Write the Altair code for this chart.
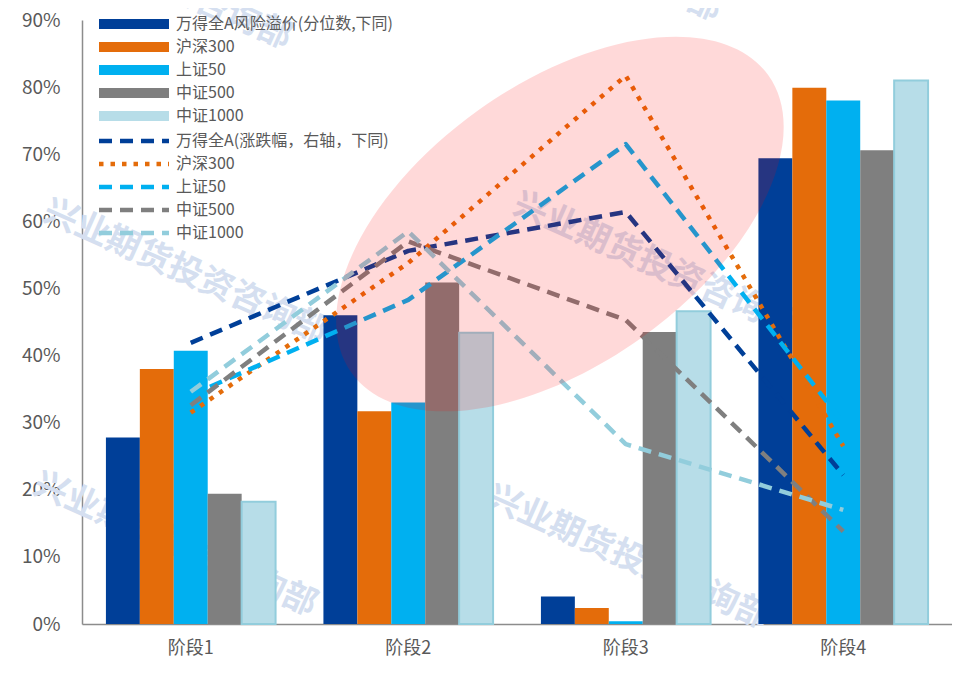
import altair as alt
import pandas as pd

FONT = "Noto Sans CJK SC"

# ---------------- data ----------------
stages = ["阶段1", "阶段2", "阶段3", "阶段4"]

bar_names = ["万得全A风险溢价(分位数,下同)", "沪深300", "上证50", "中证500", "中证1000"]
bar_wind = [27.8, 46.0, 4.1, 69.4]
bar_hs300 = [38.0, 31.7, 2.4, 79.9]
bar_sz50 = [40.7, 33.0, 0.4, 78.0]
bar_zz500 = [19.4, 50.9, 43.5, 70.6]
bar_zz1000 = [18.2, 43.4, 46.6, 81.0]

line_names = ["万得全A(涨跌幅，右轴，下同)", "沪深300", "上证50", "中证500", "中证1000"]
line_wind = [41.9, 55.6, 61.4, 22.2]
line_hs300 = [31.5, 53.8, 81.7, 26.5]
line_sz50 = [34.1, 48.3, 71.5, 30.0]
line_zz500 = [32.6, 57.0, 45.3, 13.8]
line_zz1000 = [34.6, 58.5, 26.8, 17.0]

highlight_stage = ["阶段3"]
highlight_level = [59.6]

y_ticks = [0, 10, 20, 30, 40, 50, 60, 70, 80, 90]
watermark_text = "兴业期货投资咨询部"

# ---------------- styles ----------------
bar_fill = ["#003F98", "#E46C0A", "#00B0F0", "#7F7F7F", "#B7DDE8"]
line_colors = ["#003F98", "#E46C0A", "#00B0F0", "#7F7F7F", "#92CDDC"]
line_dashes = [[13, 8], [4.5, 7], [13, 8], [13, 8], [13, 8]]

bar_series = [bar_wind, bar_hs300, bar_sz50, bar_zz500, bar_zz1000]
line_series = [line_wind, line_hs300, line_sz50, line_zz500, line_zz1000]

bars_df = pd.DataFrame(
    [
        {"stage": s, "bar_series": n, "value": v / 100}
        for n, vals in zip(bar_names, bar_series)
        for s, v in zip(stages, vals)
    ]
)
lines_df = pd.DataFrame(
    [
        {"stage": s, "line_series": n, "value": v / 100}
        for n, vals in zip(line_names, line_series)
        for s, v in zip(stages, vals)
    ]
)
hl_df = pd.DataFrame(
    {"stage": highlight_stage, "level": [v / 100 for v in highlight_level]}
)

x_enc = alt.X(
    "stage:N",
    scale=alt.Scale(domain=stages, paddingInner=0.22, paddingOuter=0.11),
    axis=alt.Axis(
        title=None,
        labelAngle=0,
        labelFontSize=18,
        labelFont=FONT,
        labelColor="#595959",
        labelPadding=15,
        ticks=False,
        domainColor="#8C8C8C",
        domainWidth=1.5,
        grid=False,
    ),
)
y_scale = alt.Scale(domain=[0, 0.9], nice=False)
y_axis = alt.Axis(
    title=None,
    values=[t / 100 for t in y_ticks],
    format=".0%",
    labelFontSize=19,
    labelFont=FONT,
    labelColor="#595959",
    labelPadding=22,
    ticks=False,
    domainColor="#8C8C8C",
    domainWidth=1.5,
    grid=False,
)

# ---------------- watermarks ----------------
wm_positions = [(103, 252), (573, 245), (93, 525), (546, 538), (68, -42), (498, -70)]
wm_layers = []
for (wx, wy) in wm_positions:
    wm_layers.append(
        alt.Chart(pd.DataFrame({"k": [0]}))
        .mark_text(
            text=watermark_text,
            angle=24,
            fontSize=34,
            fontWeight="bold",
            font=FONT,
            color="#D5DFF0",
            align="center",
            baseline="middle",
        )
        .encode(x=alt.value(wx), y=alt.value(wy))
    )

# ---------------- bars ----------------
bar_legend = alt.Legend(
    orient="none",
    legendX=44,
    legendY=-4,
    title=None,
    symbolType="M -7 -1 L 7 -1 L 7 1 L -7 1 Z",
    symbolSize=100,
    symbolStrokeWidth=0,
    labelFontSize=16,
    labelFont=FONT,
    labelColor="#595959",
    labelOffset=34,
    labelLimit=400,
    rowPadding=7,
    padding=0,
)

bars = (
    alt.Chart(bars_df)
    .mark_bar(strokeWidth=2)
    .encode(
        x=x_enc,
        xOffset=alt.XOffset(
            "bar_series:N",
            scale=alt.Scale(domain=bar_names, paddingInner=0, paddingOuter=0),
        ),
        y=alt.Y("value:Q", scale=y_scale, axis=y_axis),
        color=alt.Color(
            "bar_series:N",
            scale=alt.Scale(domain=bar_names, range=bar_fill),
            legend=bar_legend,
        ),
        stroke=alt.condition(
            alt.datum.bar_series == "中证1000",
            alt.value("#92CDDC"),
            alt.value("transparent"),
        ),
    )
)

# ---------------- lines ----------------
line_legend = alt.Legend(
    orient="none",
    legendX=44,
    legendY=113,
    title=None,
    symbolType="M -7 0 L 7 0",
    symbolSize=100,
    symbolStrokeWidth=4.5,
    labelFontSize=16,
    labelFont=FONT,
    labelColor="#595959",
    labelOffset=34,
    labelLimit=400,
    rowPadding=5,
    padding=0,
)

lines = (
    alt.Chart(lines_df)
    .mark_line(strokeWidth=4.5, strokeCap="butt", strokeJoin="round")
    .encode(
        x=alt.X("stage:N"),
        y=alt.Y("value:Q"),
        color=alt.Color(
            "line_series:N",
            scale=alt.Scale(domain=line_names, range=line_colors),
            legend=line_legend,
        ),
        strokeDash=alt.StrokeDash(
            "line_series:N",
            scale=alt.Scale(domain=line_names, range=line_dashes),
            legend=line_legend,
        ),
    )
)

# ---------------- highlight ellipse ----------------
ELLIPSE = "M -1 0 A 1 0.547 0 1 1 1 0 A 1 0.547 0 1 1 -1 0 Z"
ellipse = (
    alt.Chart(hl_df)
    .mark_point(
        shape=ELLIPSE,
        size=262144,
        angle=324.5,
        filled=True,
        color="#FF0000",
        opacity=0.15,
        strokeWidth=0,
    )
    .encode(
        x=alt.X("stage:N"),
        y=alt.Y("level:Q"),
        xOffset=alt.value(19),
    )
)

chart = (
    alt.layer(*wm_layers, bars, lines, ellipse)
    .resolve_scale(color="independent", strokeDash="independent")
    .properties(
        width=870,
        height=604,
        padding={"left": 74, "top": 12, "right": 0, "bottom": 34},
        autosize=alt.AutoSizeParams(type="none"),
        background="white",
    )
    .configure_view(strokeWidth=0)
)

chart.save("out.html", embed_options={"renderer": "svg", "actions": False})
